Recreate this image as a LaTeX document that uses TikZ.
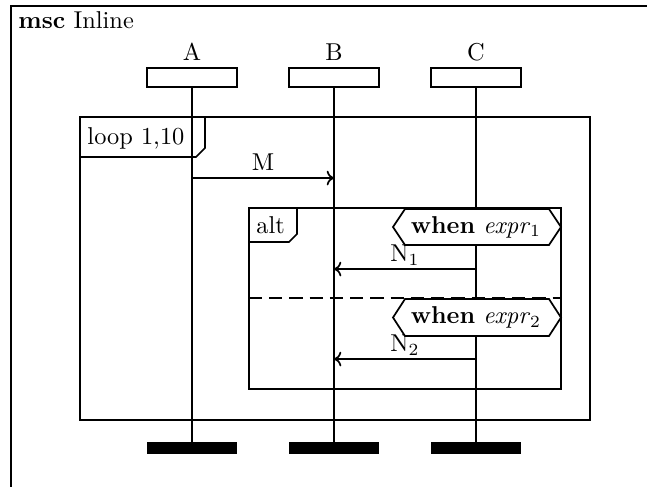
\documentclass[tikz,border=0pt]{standalone}
\usetikzlibrary{arrows.meta}
\begin{document}
\begin{tikzpicture}[x=0.41pt,y=-0.41pt,
  frameline/.style={line width=0.7pt},
  lifeline/.style={line width=0.7pt},
  headbox/.style={draw,line width=0.7pt,inner sep=0pt,minimum width=36.9pt,minimum height=7.8pt},
  endbar/.style={fill=black,inner sep=0pt,minimum width=37.3pt,minimum height=4.9pt},
  msg/.style={line width=0.7pt,-{To[length=3pt,width=6pt]}},
  msglabel/.style={midway,anchor=base,yshift=3pt,inner sep=0pt},
  guard/.style={draw,line width=0.7pt,fill=white},
  dashsep/.style={line width=0.7pt,dash pattern=on 5.4pt off 2.9pt}]
\useasboundingbox (0,0) rectangle (647,486);
\clip (0,0) rectangle (647,486);

% outer msc frame and its title
\draw[frameline] (11,6) rectangle (700,560);
\node[anchor=base west,inner sep=0pt] (title) at (18,28) {\textbf{msc} Inline};

% instance heads
\node[anchor=base] (lA) at (192,60) {A};
\node[anchor=base] (lB) at (334,60) {B};
\node[anchor=base] (lC) at (476,60) {C};
\node[headbox] (hA) at (192,77.5) {};
\node[headbox] (hB) at (334,77.5) {};
\node[headbox] (hC) at (476,77.5) {};

% instance ends
\node[endbar] (eA) at (192,448) {};
\node[endbar] (eB) at (334,448) {};
\node[endbar] (eC) at (476,448) {};

% lifelines
\draw[lifeline] (hA.south) -- (eA.north);
\draw[lifeline] (hB.south) -- (eB.north);
\draw[lifeline] (hC.south) -- (eC.north);

% loop inline expression
\draw[frameline] (80,117) rectangle (590,420);
\draw[frameline] (80,157) -- (196,157) -- (205,148) -- (205,117);
\node[anchor=base west,inner sep=0pt] (looplabel) at (87,144) {loop 1,10};

% message M
\coordinate (mA) at (192,178);
\coordinate (mB) at (334,178);
\draw[msg] (mA) -- node[msglabel] (M) {M} (mB);

% alt inline expression
\draw[frameline] (249,208) rectangle (561,389);
\draw[frameline] (249,242) -- (289,242) -- (297,234) -- (297,208);
\node[anchor=base west,inner sep=0pt] (altlabel) at (256,233) {alt};
\draw[dashsep] (249,298) -- (561,298);

% messages N1 and N2
\coordinate (n1C) at (476,269);
\coordinate (n1B) at (334,269);
\draw[msg] (n1C) -- node[msglabel] (N1) {N$_1$} (n1B);
\coordinate (n2C) at (476,359);
\coordinate (n2B) at (334,359);
\draw[msg] (n2C) -- node[msglabel] (N2) {N$_2$} (n2B);

% guards of the two alternatives
\path[guard] (393,227) -- (405,209) -- (549,209) -- (561,227) -- (549,245) -- (405,245) -- cycle;
\node (g1) at (476,227) {\textbf{when} \textit{expr}$_1$};
\path[guard] (393,317.5) -- (405,299) -- (549,299) -- (561,317.5) -- (549,336) -- (405,336) -- cycle;
\node (g2) at (476,317.5) {\textbf{when} \textit{expr}$_2$};
\end{tikzpicture}
\end{document}
